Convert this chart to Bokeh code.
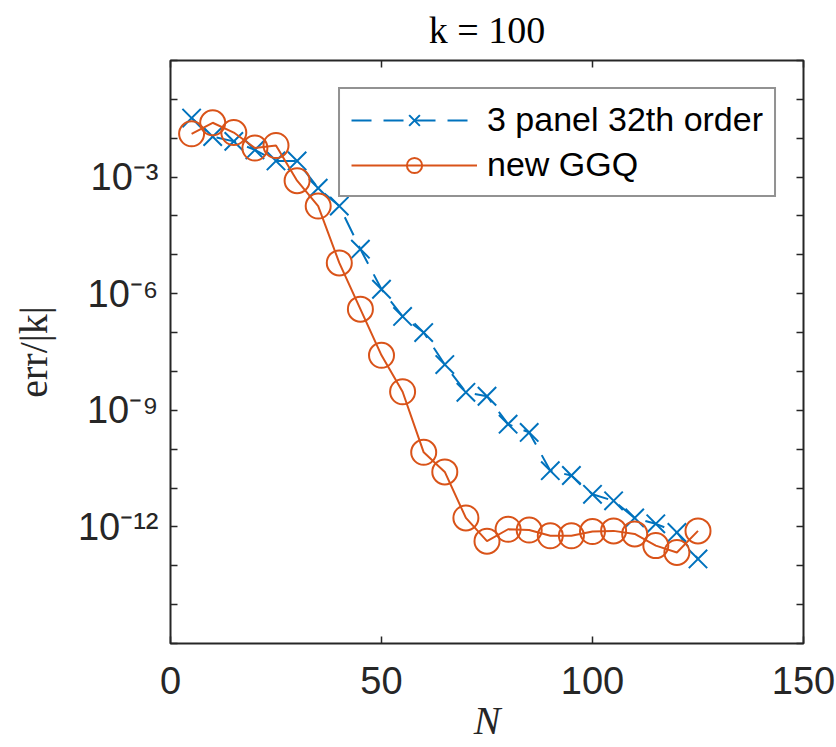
from bokeh.plotting import figure
from bokeh.models import (Range1d, FixedTicker, LinearAxis, LogAxis, Legend,
                          LegendItem, CustomJSTickFormatter, ColumnDataSource)
from bokeh.embed import file_html
from bokeh.resources import INLINE

# ---------------- data ----------------
N = [5, 10, 15, 20, 25, 30, 35, 40, 45, 50, 55, 60, 65, 70, 75, 80, 85, 90, 95, 100,
     105, 110, 115, 120, 125]
err_3panel = [3.3e-2, 1.1e-2, 8.3e-3, 5.0e-3, 2.6e-3, 2.6e-3, 5.2e-4, 1.8e-4, 1.4e-5, 1.3e-6,
              2.6e-7, 1.0e-7, 1.5e-8, 2.9e-9, 2.3e-9, 4.4e-10, 2.7e-10, 2.8e-11, 2.1e-11, 6.9e-12,
              4.7e-12, 1.7e-12, 1.2e-12, 7.2e-13, 1.5e-13]
err_ggq = [1.3e-2, 2.5e-2, 1.4e-2, 5.6e-3, 6.5e-3, 8.1e-4, 1.8e-4, 6.2e-6, 4.0e-7, 2.6e-8,
           3.0e-9, 8.3e-11, 2.6e-11, 1.7e-12, 4.3e-13, 8.7e-13, 8.3e-13, 5.9e-13, 5.9e-13, 7.6e-13,
           7.9e-13, 6.6e-13, 3.3e-13, 2.2e-13, 7.9e-13]
series_labels = ["3 panel 32th order", "new GGQ"]
x_ticks = [0, 50, 100, 150]
y_tick_decades = list(range(-15, 1))          # a tick every decade
y_label_exponents = [-3, -6, -9, -12]         # labelled decades
title_text = "k = 100"
x_label = "N"
y_label = "err/|k|"

# ---------------- style ----------------
BLUE = "#0072BD"
ORANGE = "#D95319"
AX = "#262626"
SANS = "Liberation Sans"
SERIF = "Liberation Serif"
TICK_FS = "38px"

p = figure(width=836, height=747, x_range=Range1d(0, 150), y_range=Range1d(1e-15, 1),
           y_axis_type="log", output_backend="svg", toolbar_location=None,
           min_border_left=170, min_border_right=33, min_border_top=59, min_border_bottom=104,
           background_fill_color="white", border_fill_color="white")
p.grid.visible = False
p.outline_line_color = AX
p.outline_line_width = 2
p.outline_line_alpha = 1.0

# title
p.title.text = title_text
p.title.align = "center"
p.title.vertical_align = "top"
p.title.text_font = SERIF
p.title.text_font_size = "38px"
p.title.text_font_style = "normal"
p.title.text_color = "black"
p.title.standoff = 16

empty = CustomJSTickFormatter(code="return ''")
sup_fmt = CustomJSTickFormatter(args=dict(labelled=y_label_exponents), code="""
const e = Math.round(Math.log10(tick));
const sup = {"-": "\u207b", "0": "\u2070", "1": "\u00b9", "2": "\u00b2", "3": "\u00b3",
             "4": "\u2074", "5": "\u2075", "6": "\u2076", "7": "\u2077", "8": "\u2078", "9": "\u2079"};
if (labelled.includes(e)) {
  return "10" + String(e).split("").map(c => sup[c]).join("");
}
return "";
""")

# bottom axis
xa = p.xaxis[0]
xa.ticker = FixedTicker(ticks=x_ticks)
xa.axis_line_color = None
xa.major_tick_in = 7
xa.major_tick_out = 0
xa.major_tick_line_color = AX
xa.major_tick_line_width = 1.5
xa.minor_tick_line_color = None
xa.major_label_text_font = SANS
xa.major_label_text_font_size = TICK_FS
xa.major_label_text_color = AX
xa.major_label_standoff = 23
xa.axis_label = x_label
xa.axis_label_text_font = SERIF
xa.axis_label_text_font_size = "40px"
xa.axis_label_text_font_style = "italic"
xa.axis_label_text_color = AX
xa.axis_label_standoff = 1

# left axis
ya = p.yaxis[0]
ya.ticker = FixedTicker(ticks=[10.0 ** d for d in y_tick_decades])
ya.formatter = sup_fmt
ya.axis_line_color = None
ya.major_tick_in = 7
ya.major_tick_out = 0
ya.major_tick_line_color = AX
ya.major_tick_line_width = 1.5
ya.minor_tick_line_color = None
ya.major_label_text_font = SANS
ya.major_label_text_font_size = TICK_FS
ya.major_label_text_color = AX
ya.major_label_standoff = 12
ya.axis_label = y_label
ya.axis_label_text_font = SERIF
ya.axis_label_text_font_size = "40px"
ya.axis_label_text_font_style = "normal"
ya.axis_label_text_color = AX
ya.axis_label_standoff = 19

# top and right axes: ticks only
top = LinearAxis(ticker=FixedTicker(ticks=x_ticks), formatter=empty, axis_line_color=None,
                 major_tick_in=7, major_tick_out=0, major_tick_line_color=AX,
                 major_tick_line_width=1.5, minor_tick_line_color=None, major_label_standoff=0,
                 major_label_text_font_size="0px")
p.add_layout(top, "above")
right = LogAxis(ticker=FixedTicker(ticks=[10.0 ** d for d in y_tick_decades]), formatter=empty,
                axis_line_color=None, major_tick_in=7, major_tick_out=0,
                major_tick_line_color=AX, major_tick_line_width=1.5,
                minor_tick_line_color=None, major_label_standoff=0,
                major_label_text_font_size="0px")
p.add_layout(right, "right")

# ---------------- series ----------------
src = ColumnDataSource(dict(N=N, a=err_3panel, b=err_ggq))
l1 = p.line("N", "a", source=src, line_color=BLUE, line_width=2, line_dash="20 12")
m1 = p.scatter("N", "a", source=src, marker="x", size=26, line_color=BLUE, line_width=2)
l2 = p.line("N", "b", source=src, line_color=ORANGE, line_width=2)
m2 = p.scatter("N", "b", source=src, marker="circle", size=25, line_color=ORANGE,
               line_width=2, fill_color=None)

legend = Legend(items=[LegendItem(label=series_labels[0], renderers=[l1, m1]),
                       LegendItem(label=series_labels[1], renderers=[l2, m2])],
                location="top_right", margin=27, padding=11, spacing=6,
                glyph_width=126, glyph_height=38, label_standoff=10,
                label_text_font=SANS, label_text_font_size="34px", label_text_color="black",
                border_line_color=AX, border_line_width=2, background_fill_color="white",
                background_fill_alpha=1.0)
p.add_layout(legend)

open("out.html", "w").write(file_html(p, INLINE))
